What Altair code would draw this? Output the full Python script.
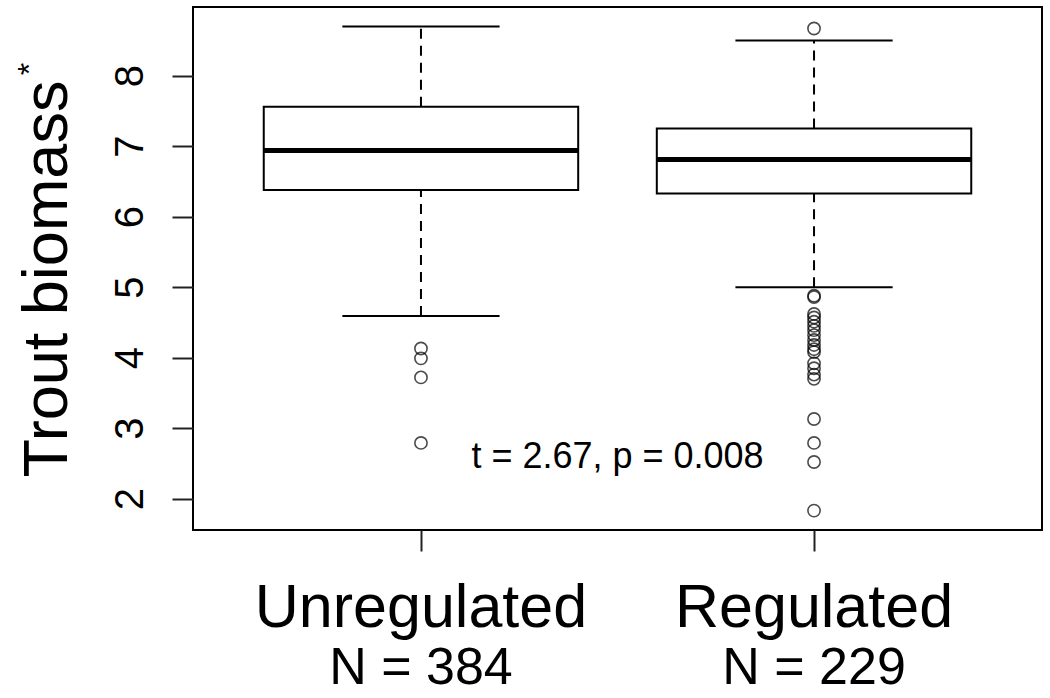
import altair as alt
import pandas as pd

# ---- data ----
groups = ["Unregulated", "Regulated"]
group_pos = [1, 2]
n_labels = ["N = 384", "N = 229"]
q1 = [6.38, 6.33]
median = [6.94, 6.81]
q3 = [7.56, 7.25]
whisk_lo = [4.59, 5.00]
whisk_hi = [8.70, 8.50]

out_unreg = [4.13, 3.99, 3.72, 2.79]
out_reg = [8.67, 4.88, 4.86, 4.62, 4.57, 4.51, 4.45, 4.39, 4.32, 4.25, 4.18,
           4.12, 4.08, 3.92, 3.85, 3.76, 3.70, 3.13, 2.79, 2.52, 1.83]

y_ticks = [2, 3, 4, 5, 6, 7, 8]
annotation = "t = 2.67, p = 0.008"

BOX_HALF = 0.4
CAP_HALF = 0.2

boxes = pd.DataFrame({
    "g": groups, "pos": group_pos, "q1": q1, "med": median, "q3": q3,
    "lo": whisk_lo, "hi": whisk_hi, "n": n_labels,
})
boxes["bx1"] = boxes["pos"] - BOX_HALF
boxes["bx2"] = boxes["pos"] + BOX_HALF
boxes["cx1"] = boxes["pos"] - CAP_HALF
boxes["cx2"] = boxes["pos"] + CAP_HALF

outliers = pd.DataFrame({
    "pos": [1] * len(out_unreg) + [2] * len(out_reg),
    "v": out_unreg + out_reg,
})

xscale = alt.Scale(domain=[0.42, 2.58], nice=False, zero=False)
yscale = alt.Scale(domain=[1.555, 8.975], nice=False, zero=False)

x_axis = alt.Axis(values=group_pos, labels=False, title=None, tickSize=21,
                  tickWidth=2, tickColor="#222", domain=False, grid=False)
y_axis = alt.Axis(values=y_ticks, format="d", title=None, tickSize=21,
                  tickWidth=2, tickColor="#222", domain=False, grid=False,
                  labelAngle=270, labelAlign="center",
                  labelBaseline="alphabetic", labelPadding=30,
                  labelFont="Liberation Sans", labelFontSize=40,
                  labelColor="black")

base = alt.Chart(boxes)

box = base.mark_rect(fill="white", stroke="black", strokeWidth=2).encode(
    x=alt.X("bx1:Q", scale=xscale, axis=x_axis),
    x2="bx2:Q",
    y=alt.Y("q1:Q", scale=yscale, axis=y_axis),
    y2="q3:Q",
)

med = base.mark_rule(color="black", strokeWidth=5).encode(
    x=alt.X("bx1:Q", scale=xscale), x2="bx2:Q",
    y=alt.Y("med:Q", scale=yscale),
)

whisk_up = base.mark_rule(color="black", strokeWidth=2, strokeDash=[10, 7]).encode(
    x=alt.X("pos:Q", scale=xscale),
    y=alt.Y("q3:Q", scale=yscale), y2="hi:Q",
)
whisk_dn = base.mark_rule(color="black", strokeWidth=2, strokeDash=[10, 7]).encode(
    x=alt.X("pos:Q", scale=xscale),
    y=alt.Y("lo:Q", scale=yscale), y2="q1:Q",
)
cap_up = base.mark_rule(color="black", strokeWidth=2).encode(
    x=alt.X("cx1:Q", scale=xscale), x2="cx2:Q",
    y=alt.Y("hi:Q", scale=yscale),
)
cap_dn = base.mark_rule(color="black", strokeWidth=2).encode(
    x=alt.X("cx1:Q", scale=xscale), x2="cx2:Q",
    y=alt.Y("lo:Q", scale=yscale),
)

pts = alt.Chart(outliers).mark_point(
    shape="circle", filled=False, size=150, stroke="black", strokeWidth=1.6
).encode(
    x=alt.X("pos:Q", scale=xscale),
    y=alt.Y("v:Q", scale=yscale),
)

ann = alt.Chart(pd.DataFrame({"t": [annotation], "x": [1.5]})).mark_text(
    font="Liberation Sans", fontSize=36, color="black",
    align="center", baseline="alphabetic",
).encode(
    x=alt.X("x:Q", scale=xscale),
    y=alt.value(461),
    text="t:N",
)

grp_lab = base.mark_text(
    font="Liberation Sans", fontSize=61, color="black",
    align="center", baseline="alphabetic",
).encode(
    x=alt.X("pos:Q", scale=xscale),
    y=alt.value(620),
    text="g:N",
)
n_lab = base.mark_text(
    font="Liberation Sans", fontSize=52, color="black",
    align="center", baseline="alphabetic",
).encode(
    x=alt.X("pos:Q", scale=xscale),
    y=alt.value(677),
    text="n:N",
)

title = alt.Chart(pd.DataFrame({"t": ["Trout biomass"]})).mark_text(
    font="Liberation Sans", fontSize=63, color="black", angle=270,
    align="center", baseline="alphabetic",
).encode(
    x=alt.value(-126), y=alt.value(272), text="t:N",
)
star = alt.Chart(pd.DataFrame({"t": ["*"]})).mark_text(
    font="Liberation Sans", fontSize=32, color="black", angle=270,
    align="center", baseline="alphabetic",
).encode(
    x=alt.value(-153), y=alt.value(62), text="t:N",
)

chart = alt.layer(
    box, whisk_up, whisk_dn, cap_up, cap_dn, med, pts, ann,
    grp_lab, n_lab, title, star,
).properties(
    width=849, height=523,
    padding={"left": 193, "top": 7, "right": 8, "bottom": 168},
    autosize=alt.AutoSizeParams(type="none"),
    background="white",
).configure_view(
    stroke="black", strokeWidth=2,
)

chart.save("out.html", embed_options={"renderer": "svg", "actions": False})
